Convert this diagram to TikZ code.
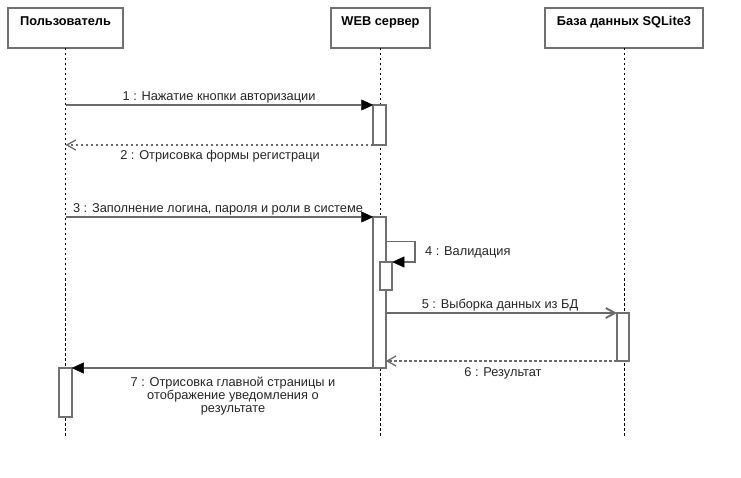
\documentclass[tikz,border=0pt]{standalone}
\usepackage{fontspec}
\setmainfont{Liberation Sans}
\usetikzlibrary{arrows.meta}
\definecolor{boxgray}{HTML}{707070}
\definecolor{linegray}{HTML}{6A6A6A}
\begin{document}
\begin{tikzpicture}[x=1pt,y=-1pt,
  headbox/.style={draw=boxgray, line width=2pt, fill=white, minimum width=#1, minimum height=40pt, outer sep=0pt,
    anchor=north, inner ysep=3pt, text height=14pt, text depth=19pt, font=\fontsize{12.8}{14}\selectfont\bfseries},
  lifeline/.style={draw=black, line width=0.9pt, dash pattern=on 2.5pt off 2.5pt},
  actbox/.style={draw=boxgray, line width=2pt, fill=white, minimum width=12.5pt, minimum height=#1, anchor=north, inner sep=0pt, outer sep=0pt},
  msg/.style={draw=linegray, line width=1.9pt, -{Triangle[length=12pt,width=11pt,color=black,line width=0.5pt]}},
  openmsg/.style={draw=linegray, line width=1.9pt, -{Straight Barb[length=9pt,width=10pt]}},
  ret/.style={draw=linegray, line width=1.4pt, dash pattern=on 2.5pt off 2.5pt, -{Straight Barb[length=9pt,width=10pt,line width=1.3pt]}},
  lbl/.style={font=\fontsize{12.8}{13}\selectfont, inner sep=0pt, anchor=base, text=black!85},
]
\useasboundingbox (0,0) rectangle (741,478);
\fill[white] (0,0) rectangle (741,478);
% heads
\node[headbox=115pt] (h1) at (65.5,8) {Пользователь};
\node[headbox=99pt] (h2) at (380.5,8) {WEB сервер};
\node[headbox=158pt] (h3) at (624,8) {База данных SQLite3};
% lifeline ends
\coordinate (e1) at (65.5,437);
\coordinate (e2) at (380.5,437);
\coordinate (e3) at (624,437);
\draw[lifeline] (h1.south) -- (e1);
\draw[lifeline] (h2.south) -- (e2);
\draw[lifeline] (h3.south) -- (e3);
% activations
\node[actbox=40pt] (a1) at (379.5,105) {};
\node[actbox=151pt] (a2) at (379.5,217) {};
\node[actbox=28pt] (a3) at (386,262) {};
\node[actbox=48pt] (a4) at (623,313) {};
\node[actbox=49pt] (a5) at (65.5,368) {};
% points on lifelines
\coordinate (u1) at (65.5,105);
\coordinate (u2) at (65.5,145);
\coordinate (u3) at (65.5,217);
\coordinate (s4a) at (415,241.5);
\coordinate (s4b) at (415,262);
% messages
\draw[msg] (u1) -- (a1.north west);
\node[lbl] (l1) at (219,101) {1 : Нажатие кнопки авторизации};
\draw[ret] (a1.south west) -- (u2);
\node[lbl] (l2) at (220,160) {2 : Отрисовка формы регистраци};
\draw[msg] (u3) -- (a2.north west);
\node[lbl] (l3) at (218,213) {3 : Заполнение логина, пароля и роли в системе};
\draw[msg] (a2.east |- s4a) -- (s4a) -- (s4b) -- (a3.north east);
\node[lbl, anchor=base west] (l4) at (425,256) {4 : Валидация};
\draw[openmsg] (a2.east |- a4.north) -- (a4.north west);
\node[lbl] (l5) at (500,308) {5 : Выборка данных из БД};
\draw[ret] (a4.south west) -- (a2.east |- a4.south);
\node[lbl] (l6) at (503,376) {6 : Результат};
\draw[msg] (a2.south west) -- (a5.north east);
\node[lbl, align=center, anchor=north] (l7) at (233,377) {7 : Отрисовка главной страницы и\\отображение уведомления о\\результате};
\end{tikzpicture}
\end{document}
